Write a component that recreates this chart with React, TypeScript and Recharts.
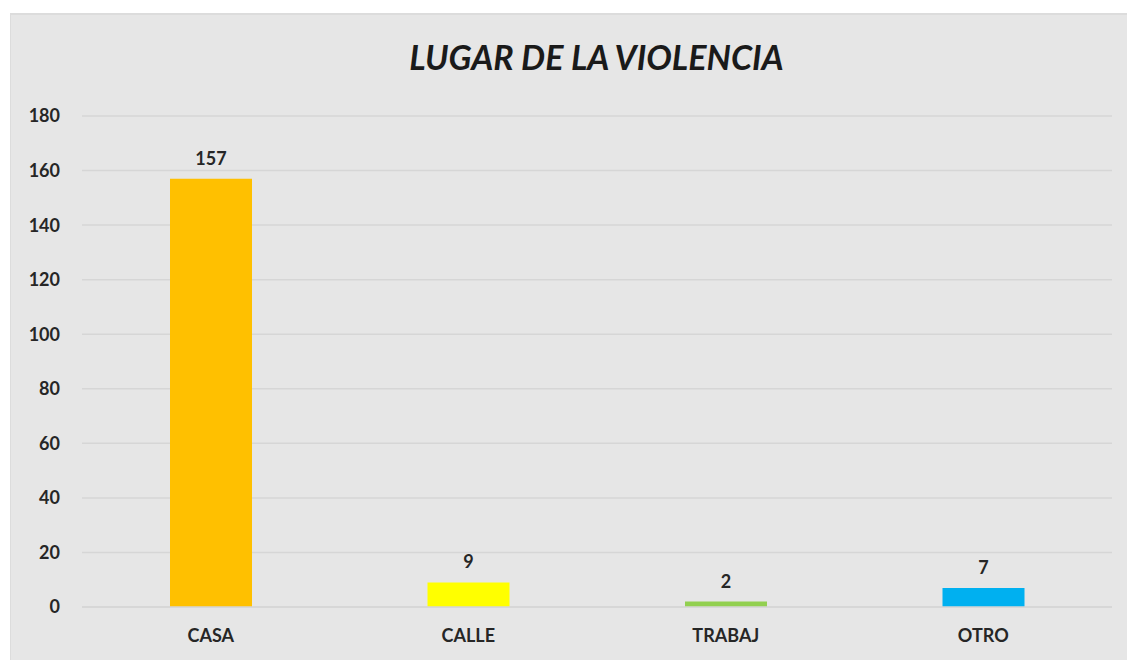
import { BarChart, Bar, XAxis, YAxis, CartesianGrid, Cell, LabelList } from "recharts";

const categories = ["CASA", "CALLE", "TRABAJ", "OTRO"];
const counts = [157, 9, 2, 7];
const barColors = ["#FFC000", "#FFFF00", "#92D050", "#00B0F0"];
const yTicks = [0, 20, 40, 60, 80, 100, 120, 140, 160, 180];

const data = categories.map((name, i) => ({ name, value: counts[i] }));

const font = "Lato, 'Open Sans', sans-serif";

export default function App() {
  return (
    <div style={{ position: "absolute", left: 0, top: 0, width: 1127, height: 660, background: "#fff", overflow: "hidden", fontFamily: font }}>
      <div
        style={{
          position: "absolute",
          left: 10,
          top: 13,
          width: 1117,
          height: 647,
          background: "#e6e6e6",
          borderTop: "2px solid #dcdcdc",
          borderLeft: "1px solid #dcdcdc",
          boxSizing: "border-box",
        }}
      />
      <div
        style={{
          position: "absolute",
          left: 0,
          top: 36,
          width: 1193,
          textAlign: "center",
          fontSize: 34,
          fontWeight: 700,
          fontStyle: "italic",
          color: "#1a1a1a",
        }}
      >
        LUGAR DE LA VIOLENCIA
      </div>
      <div style={{ position: "absolute", left: 0, top: 0 }}>
        <BarChart width={1127} height={660} data={data} margin={{ top: 116, right: 15, bottom: 23, left: 10 }} barCategoryGap={88}>
          <CartesianGrid vertical={false} stroke="#d6d6d6" strokeWidth={1.5} />
          <XAxis
            dataKey="name"
            axisLine={{ stroke: "#d6d6d6", strokeWidth: 1.5 }}
            tickLine={false}
            tickMargin={16}
            tick={{ fill: "#262626", fontSize: 18, fontWeight: 700, fontFamily: font }}
          />
          <YAxis
            width={72}
            domain={[0, 180]}
            ticks={yTicks}
            axisLine={false}
            tickLine={false}
            tickMargin={16}
            tick={{ fill: "#262626", fontSize: 18, fontWeight: 700, fontFamily: font }}
          />
          <Bar dataKey="value" isAnimationActive={false}>
            {data.map((d, i) => (
              <Cell key={d.name} fill={barColors[i]} />
            ))}
            <LabelList dataKey="value" position="top" offset={14} fill="#262626" fontSize={18} fontWeight={700} fontFamily={font} />
          </Bar>
        </BarChart>
      </div>
    </div>
  );
}
